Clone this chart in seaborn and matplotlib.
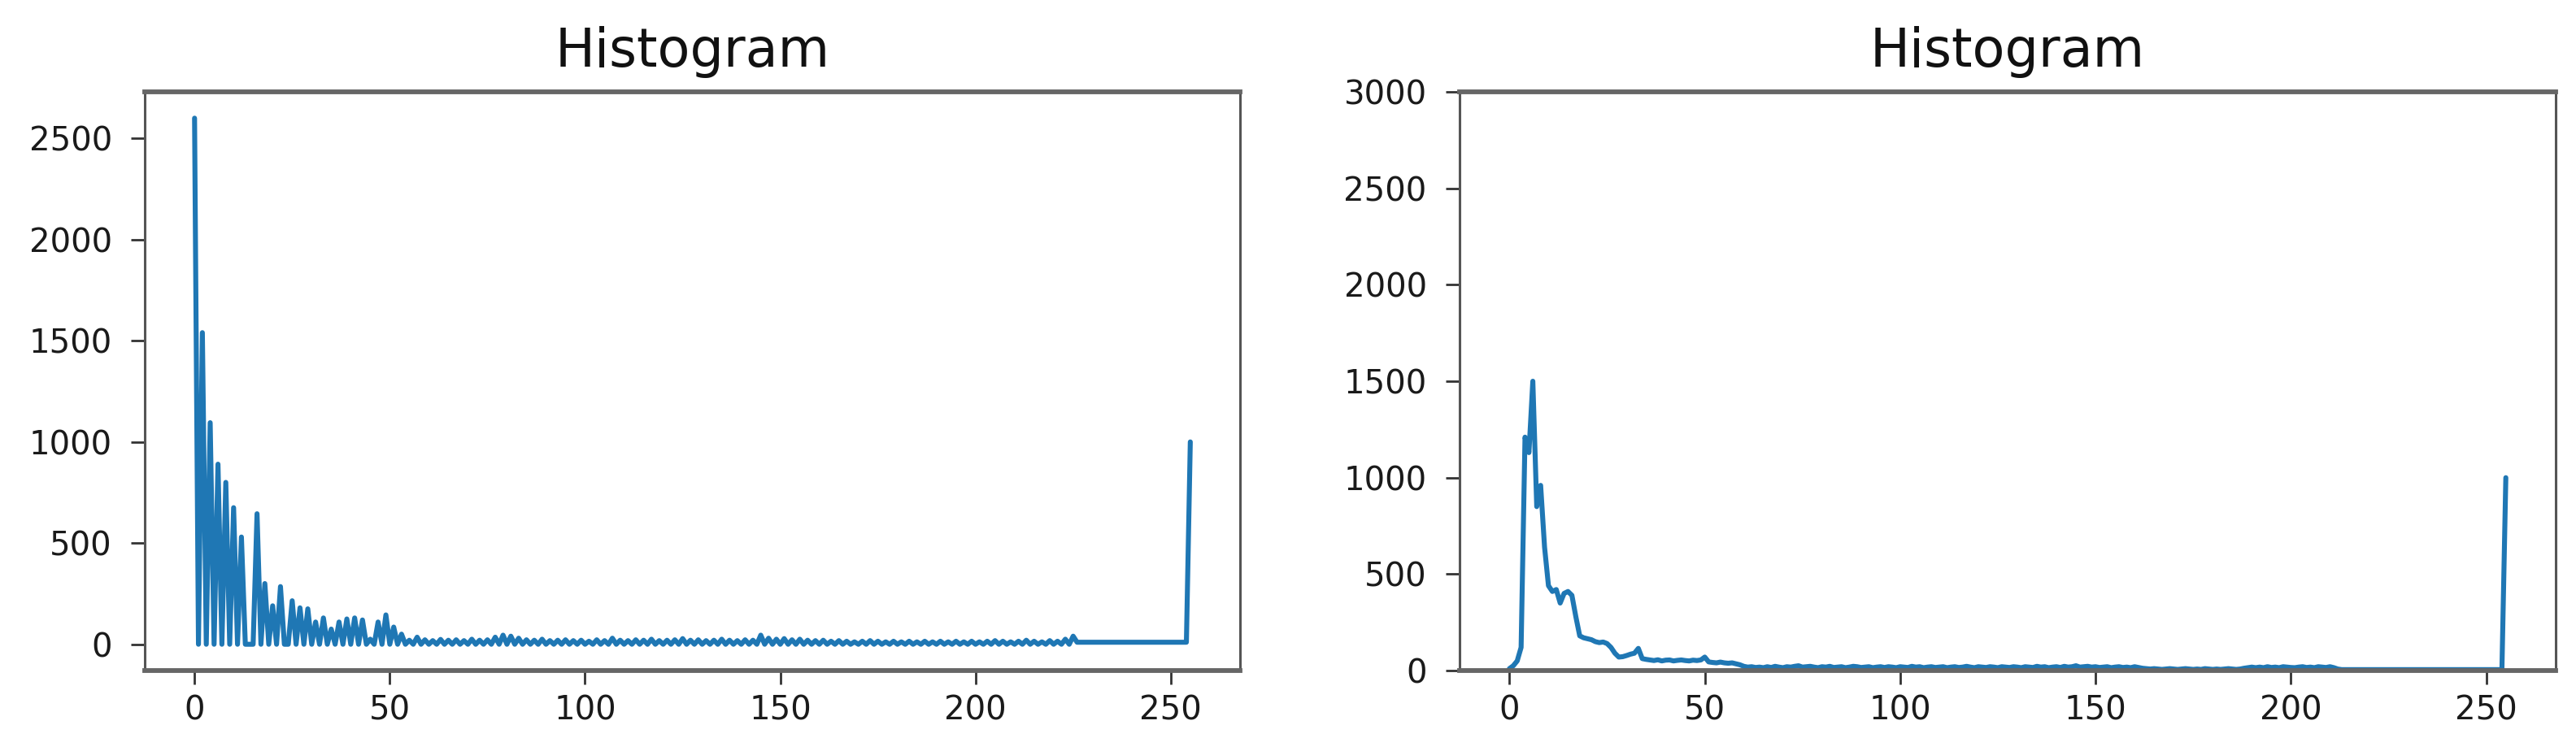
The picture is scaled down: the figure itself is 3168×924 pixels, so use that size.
import numpy as np
import pandas as pd
import seaborn as sns
import matplotlib.pyplot as plt

# --- data: pixel intensity histograms (256 bins) ---
bins = list(range(256))

hist_left = [
    2600, 0, 1540, 0, 1095, 0, 890, 0, 800, 0, 675, 0, 530, 0, 0, 0,
    645, 0, 300, 0, 190, 0, 285, 0, 0, 215, 0, 180, 0, 175, 0, 110,
    0, 130, 0, 75, 0, 110, 0, 125, 0, 130, 0, 120, 0, 25, 0, 110,
    0, 145, 0, 85, 0, 50, 0, 20, 0, 35, 0, 22, 0, 18, 0, 24,
    0, 20, 0, 22, 0, 18, 0, 25, 0, 20, 0, 22, 0, 35, 0, 45,
    0, 40, 0, 30, 0, 22, 0, 20, 0, 25, 0, 18, 0, 20, 0, 22,
    0, 18, 0, 20, 0, 15, 0, 22, 0, 18, 0, 30, 0, 20, 0, 18,
    0, 22, 0, 20, 0, 25, 0, 18, 0, 20, 0, 22, 0, 28, 0, 20,
    0, 22, 0, 18, 0, 20, 0, 25, 0, 20, 0, 18, 0, 22, 0, 20,
    0, 45, 0, 30, 0, 25, 0, 28, 0, 22, 0, 25, 0, 20, 0, 18,
    0, 20, 0, 15, 0, 18, 0, 15, 0, 12, 0, 15, 0, 18, 0, 15,
    0, 12, 0, 15, 0, 12, 0, 15, 0, 12, 0, 15, 0, 12, 0, 15,
    0, 12, 0, 15, 0, 12, 0, 15, 0, 12, 0, 15, 0, 18, 0, 15,
    0, 12, 0, 15, 0, 20, 0, 15, 0, 12, 0, 18, 0, 15, 0, 25,
    0, 40, 10, 10, 10, 10, 10, 10, 10, 10, 10, 10, 10, 10, 10, 10,
    10, 10, 10, 10, 10, 10, 10, 10, 10, 10, 10, 10, 10, 10, 10, 1000,
]

hist_right = [
    10, 25, 50, 120, 1210, 1130, 1500, 850, 960, 640, 440, 410, 420, 350, 400, 410,
    390, 280, 180, 170, 165, 160, 150, 145, 148, 140, 120, 90, 70, 72, 78, 85,
    90, 115, 62, 58, 55, 52, 56, 50, 54, 55, 50, 53, 55, 52, 50, 54,
    52, 55, 70, 45, 42, 40, 44, 40, 38, 40, 35, 30, 22, 18, 20, 16,
    18, 15, 20, 16, 22, 18, 15, 20, 18, 22, 25, 18, 20, 22, 18, 15,
    20, 18, 22, 16, 18, 20, 15, 18, 22, 20, 16, 18, 20, 15, 18, 20,
    16, 20, 18, 15, 20, 18, 16, 22, 18, 20, 15, 18, 20, 16, 18, 20,
    15, 18, 20, 16, 18, 22, 18, 15, 20, 18, 16, 20, 18, 15, 20, 18,
    16, 20, 18, 15, 20, 18, 16, 22, 18, 20, 15, 18, 20, 16, 22, 18,
    20, 25, 18, 20, 22, 18, 20, 16, 18, 20, 15, 18, 20, 16, 18, 15,
    20, 16, 12, 10, 8, 10, 8, 6, 8, 10, 8, 6, 8, 10, 8, 6,
    8, 6, 10, 8, 6, 8, 6, 8, 10, 8, 6, 8, 12, 15, 18, 15,
    18, 15, 20, 16, 18, 15, 20, 18, 16, 15, 18, 20, 16, 18, 15, 20,
    18, 16, 20, 15, 8, 5, 5, 5, 5, 5, 5, 5, 5, 5, 5, 5,
    5, 5, 5, 5, 5, 5, 5, 5, 5, 5, 5, 5, 5, 5, 5, 5,
    5, 5, 5, 5, 5, 5, 5, 5, 5, 5, 5, 5, 5, 5, 5, 1000,
]

titles = ["Histogram", "Histogram"]

df = pd.DataFrame({"bin": bins, "left": hist_left, "right": hist_right})

sns.set_style("ticks")
plt.rcParams['font.family'] = ['DejaVu Sans']

fig = plt.figure(figsize=(31.68, 9.24), dpi=100)
ax1 = fig.add_axes([0.0562, 0.1071, 0.4252, 0.7706])
ax2 = fig.add_axes([0.5666, 0.1071, 0.4255, 0.7706])

sns.lineplot(data=df, x="bin", y="left", ax=ax1, color="#1f77b4", linewidth=4.4)
sns.lineplot(data=df, x="bin", y="right", ax=ax2, color="#1f77b4", linewidth=4.4)
ax2.set_ylim(0, 3000)

for ax, title in zip([ax1, ax2], titles):
    ax.set_title(title, fontsize=47, pad=22, color="#111111")
    ax.set_xlabel("")
    ax.set_ylabel("")
    ax.set_xticks([0, 50, 100, 150, 200, 250])
    ax.tick_params(labelsize=29, length=12, width=2, color="#333333", labelcolor="#1a1a1a")
    ax.tick_params(axis="x", pad=9)
    ax.tick_params(axis="y", pad=17)
    for side in ["top", "bottom"]:
        ax.spines[side].set_linewidth(4.2)
        ax.spines[side].set_color("#666666")
    for side in ["left", "right"]:
        ax.spines[side].set_linewidth(2.2)
        ax.spines[side].set_color("#555555")

fig.savefig("out.png", dpi=100)
